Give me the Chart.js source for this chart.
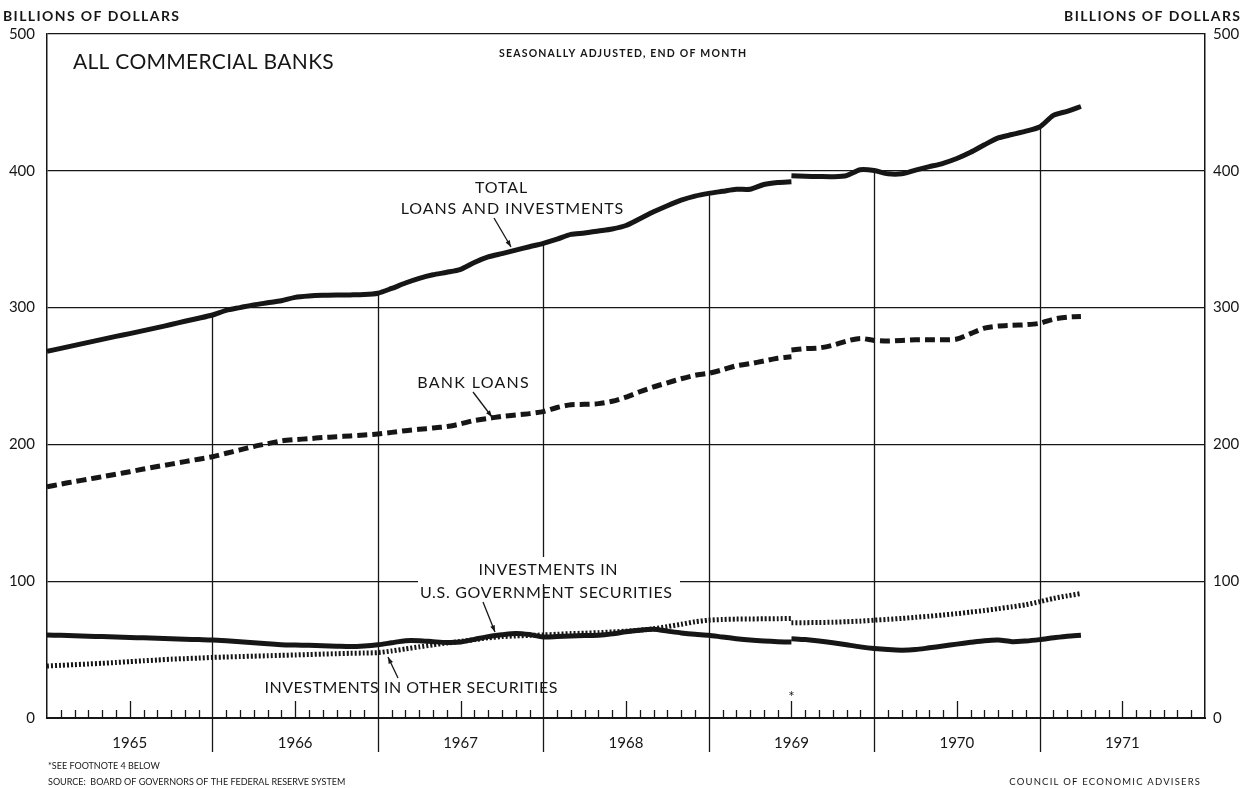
<!DOCTYPE html>
<html>
<head>
<meta charset="utf-8">
<script src="https://cdn.jsdelivr.net/npm/chart.js@4.4.1/dist/chart.umd.min.js"></script>
<style>
  body { margin: 0; background: #fff; }
  #wrap { width: 1244px; height: 788px; }
</style>
</head>
<body>
<div id="wrap"><canvas id="chart" width="1244" height="788"></canvas></div>
<script>
// Data: month-end values in billions, month 0 = start of 1965
// Series break mid-1969 (month 54): old basis up to 54, new basis from 54
const years = ['1965', '1966', '1967', '1968', '1969', '1970', '1971'];
const yTicks = [0, 100, 200, 300, 400, 500];
const breakMonth = 54;

const totalOld = [268, 270.2, 272.4, 274.6, 276.8, 279, 281, 283.2, 285.4, 287.6,
  290, 292.2, 294.6, 298, 300, 302, 303.5, 305, 307.5, 308.5,
  309, 309.2, 309.3, 309.5, 310.5, 314, 318, 321.4, 324, 325.8,
  328, 333, 337, 339.5, 342, 344.5, 347, 350, 353.5, 354.5,
  356, 357.5, 360, 365, 370, 374.5, 378.5, 381.5, 383.5, 385,
  386.5, 386.5, 390, 391.5, 392];
const totalNew = [396.4, 396, 395.8, 395.7, 396.5, 400.8, 400.2, 397.8, 397.8, 400.5,
  403, 405.5, 409, 413.5, 419, 424, 426.5, 429, 432, 440.5, 443.5, 447];

const loansOld = [169, 171, 172.8, 174.6, 176.4, 178.2, 180, 182, 183.8, 185.6,
  187.4, 189.2, 191, 193.5, 196, 198.5, 200.5, 202.5, 203.5, 204.2,
  205, 205.6, 206.2, 206.9, 207.6, 208.8, 210, 211, 212, 213,
  215, 217.5, 219, 220.5, 221.5, 222.5, 224, 227, 229, 229.3,
  229.8, 231.5, 234.5, 238.5, 242, 245, 248, 250.5, 252, 254.5,
  257.5, 259, 261, 263, 264];
const loansNew = [269, 270, 270.5, 272.5, 275.5, 277.5, 276, 275.5, 276, 276.5,
  276.5, 276.5, 277, 281, 285, 286.5, 287, 287.5, 288.5, 291.5, 293, 293.5];

const govOld = [60.7, 60.4, 60.1, 59.8, 59.5, 59.2, 58.9, 58.6, 58.3, 58,
  57.6, 57.3, 57, 56.4, 55.7, 55, 54.3, 53.6, 53.3, 53.1,
  52.8, 52.5, 52.2, 52.6, 53.5, 55, 56.5, 56.5, 55.8, 55.2,
  55.5, 57.5, 59.5, 60.8, 61.8, 61, 59.2, 59.5, 60, 60.3,
  60.5, 61.5, 63, 64.2, 64.8, 63.5, 62.2, 61.2, 60.5, 59.2,
  58, 57, 56.3, 55.8, 55.5];
const govNew = [58, 57.3, 56.3, 55, 53.5, 52, 50.8, 50, 49.6, 50,
  51.3, 52.6, 54, 55.3, 56.5, 57, 55.8, 56.3, 57.3, 58.6, 59.8, 60.5];

const otherOld = [38, 38.5, 39, 39.5, 40, 40.6, 41.2, 41.8, 42.4, 43,
  43.4, 43.8, 44.3, 44.6, 44.9, 45.2, 45.5, 45.8, 46.1, 46.4,
  46.7, 47, 47.3, 47.5, 47.8, 49, 50.5, 52, 53.5, 54.8,
  56, 57.3, 58.6, 59.5, 60, 60.4, 60.7, 61.2, 61.7, 62,
  62.4, 62.9, 63.5, 64.2, 65.2, 66.8, 68.5, 70.3, 71.5, 72,
  72.3, 72.4, 72.5, 72.6, 72.8];
const otherNew = [69.6, 69.7, 69.8, 70, 70.4, 70.8, 71.5, 72.1, 72.8, 73.6,
  74.4, 75.3, 76.3, 77.4, 78.6, 79.9, 81.3, 82.8, 85, 87.4, 89.3, 91];

const FONT = 'Lato, "DejaVu Sans", sans-serif';
const INK = '#161616';

// turn a run of monthly values into {x, y} points
const series = (start, values) => values.map((v, i) => ({ x: start + i, y: v }));
const totalAt = m => m <= breakMonth ? totalOld[m] : totalNew[m - breakMonth];

function line(data, dash, width) {
  return {
    data: data,
    borderColor: INK,
    borderWidth: width,
    borderDash: dash,
    borderCapStyle: 'butt',
    borderJoinStyle: 'round',
    pointRadius: 0,
    tension: 0.25,
    fill: false
  };
}

function txt(ctx, s, x, y, size, weight, align, spacing) {
  ctx.font = `${weight || 'normal'} ${size}px ${FONT}`;
  ctx.letterSpacing = (spacing || 0) + 'px';
  ctx.textAlign = align || 'left';
  ctx.textBaseline = 'alphabetic';
  ctx.fillStyle = INK;
  // trailing letter spacing would push centred/right text off, so nudge it back
  const shift = align === 'right' ? spacing || 0 : align === 'center' ? (spacing || 0) / 2 : 0;
  ctx.fillText(s, x + shift, y);
  ctx.letterSpacing = '0px';
}

function arrow(ctx, x1, y1, x2, y2) {
  ctx.beginPath();
  ctx.moveTo(x1, y1);
  ctx.lineTo(x2, y2);
  ctx.stroke();
  const a = Math.atan2(y2 - y1, x2 - x1);
  ctx.beginPath();
  ctx.moveTo(x2, y2);
  ctx.lineTo(x2 - 7 * Math.cos(a - 0.35), y2 - 7 * Math.sin(a - 0.35));
  ctx.lineTo(x2 - 7 * Math.cos(a + 0.35), y2 - 7 * Math.sin(a + 0.35));
  ctx.closePath();
  ctx.fill();
}

const decor = {
  id: 'decor',
  beforeDatasetsDraw(chart) {
    // year dividers rise from the axis up to the total line
    const { ctx, scales: { x, y } } = chart;
    ctx.save();
    ctx.strokeStyle = INK;
    ctx.lineWidth = 1.3;
    for (let m = 12; m < 84; m += 12) {
      const px = Math.round(x.getPixelForValue(m)) + 0.5;
      ctx.beginPath();
      ctx.moveTo(px, y.getPixelForValue(0));
      ctx.lineTo(px, y.getPixelForValue(totalAt(m)));
      ctx.stroke();
    }
    ctx.restore();
  },
  afterDraw(chart) {
    const { ctx, scales: { x, y } } = chart;
    ctx.save();
    ctx.strokeStyle = INK;
    ctx.fillStyle = INK;
    ctx.lineWidth = 1.3;

    // month ticks, taller at mid-year
    const y0 = y.getPixelForValue(0);
    for (let m = 1; m < 84; m++) {
      if (m % 12 === 0) continue;
      const px = Math.round(x.getPixelForValue(m)) + 0.5;
      ctx.beginPath();
      ctx.moveTo(px, y0);
      ctx.lineTo(px, y0 - (m % 12 === 6 ? 17 : 8));
      ctx.stroke();
    }
    // year separators below the axis
    for (let m = 12; m < 84; m += 12) {
      const px = Math.round(x.getPixelForValue(m)) + 0.5;
      ctx.beginPath();
      ctx.moveTo(px, y0);
      ctx.lineTo(px, y0 + 34);
      ctx.stroke();
    }

    // headers
    txt(ctx, 'BILLIONS OF DOLLARS', 3, 21, 14, 'bold', 'left', 1.4);
    txt(ctx, 'BILLIONS OF DOLLARS', 1240, 21, 14, 'bold', 'right', 1.4);
    txt(ctx, 'ALL COMMERCIAL BANKS', 73, 69, 21, 'normal', 'left', 0.3);
    txt(ctx, 'SEASONALLY ADJUSTED, END OF MONTH', 499, 57, 10.5, 'bold', 'left', 1.2);

    // series labels
    txt(ctx, 'TOTAL', 501, 193, 16, 'normal', 'center', 0.9);
    txt(ctx, 'LOANS AND INVESTMENTS', 512, 214, 16, 'normal', 'center', 0.9);
    arrow(ctx, 494, 218, 511, 247);

    txt(ctx, 'BANK LOANS', 473, 388, 16, 'normal', 'center', 1.3);
    arrow(ctx, 473, 392, 492, 417);

    ctx.fillStyle = '#fff';
    ctx.fillRect(418, 557, 262, 27);
    ctx.fillStyle = INK;
    txt(ctx, 'INVESTMENTS IN', 548, 575, 16, 'normal', 'center', 0.7);
    txt(ctx, 'U.S. GOVERNMENT SECURITIES', 546, 598, 16, 'normal', 'center', 0.7);
    arrow(ctx, 483, 602, 495, 632);

    txt(ctx, 'INVESTMENTS IN OTHER SECURITIES', 411, 693, 16, 'normal', 'center', 0.5);
    arrow(ctx, 398, 678, 388, 657);

    // break marker at mid-1969
    txt(ctx, '*', x.getPixelForValue(breakMonth), 702, 15, 'normal', 'center');

    // footnotes
    txt(ctx, '*SEE FOOTNOTE 4 BELOW', 48, 769, 9);
    txt(ctx, 'SOURCE:  BOARD OF GOVERNORS OF THE FEDERAL RESERVE SYSTEM', 48, 785, 9);
    txt(ctx, 'COUNCIL OF ECONOMIC ADVISERS', 1200, 785, 9.5, 'normal', 'right', 1.2);
    ctx.restore();
  }
};

const ctx = document.getElementById('chart').getContext('2d');
new Chart(ctx, {
  type: 'line',
  data: {
    datasets: [
      line(series(0, totalOld), [], 5),
      line(series(breakMonth, totalNew), [], 5),
      line(series(0, loansOld), [10, 5], 5),
      line(series(breakMonth, loansNew), [10, 5], 5),
      line(series(0, govOld), [], 5),
      line(series(breakMonth, govNew), [], 5),
      line(series(0, otherOld), [2, 2], 5),
      line(series(breakMonth, otherNew), [2, 2], 5)
    ]
  },
  options: {
    responsive: false,
    animation: false,
    layout: { padding: { top: 34 } },
    plugins: { legend: { display: false }, tooltip: { enabled: false } },
    scales: {
      x: {
        type: 'linear',
        min: 0,
        max: 84,
        afterFit: s => { s.height = 70; },
        afterBuildTicks: s => { s.ticks = years.map((yr, i) => ({ value: i * 12 + 6 })); },
        grid: { display: false, drawTicks: false },
        border: { display: true, color: INK, width: 2 },
        ticks: {
          autoSkip: false,
          maxRotation: 0,
          padding: 16,
          color: INK,
          font: { family: FONT, size: 15 },
          callback: v => years[(v - 6) / 12]
        }
      },
      y: {
        min: 0,
        max: 500,
        afterFit: s => { s.width = 47; },
        afterBuildTicks: s => { s.ticks = yTicks.map(v => ({ value: v })); },
        grid: { color: INK, lineWidth: 1.3, drawTicks: false },
        border: { display: true, color: INK, width: 1.5 },
        ticks: { padding: 12, color: INK, font: { family: FONT, size: 15 } }
      },
      y2: {
        position: 'right',
        min: 0,
        max: 500,
        afterFit: s => { s.width = 39; },
        afterBuildTicks: s => { s.ticks = yTicks.map(v => ({ value: v })); },
        grid: { drawOnChartArea: false, drawTicks: false },
        border: { display: true, color: INK, width: 1.5 },
        ticks: { padding: 8, color: INK, font: { family: FONT, size: 15 } }
      }
    }
  },
  plugins: [decor]
});
</script>
</body>
</html>
